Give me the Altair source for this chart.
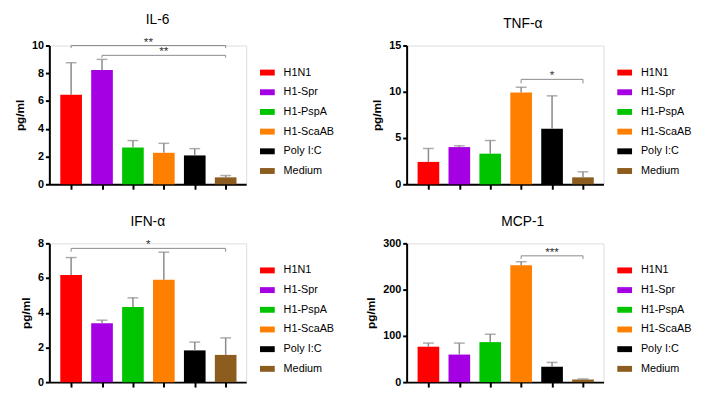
import altair as alt
import pandas as pd

groups = ["H1N1", "H1-Spr", "H1-PspA", "H1-ScaAB", "Poly I:C", "Medium"]
colors = ["#FF0000", "#A500E3", "#00C400", "#FF8000", "#000000", "#8D5C1F"]

il6_mean = [6.46, 8.23, 2.65, 2.27, 2.08, 0.50]
il6_top = [8.76, 9.00, 3.15, 2.95, 2.57, 0.63]
tnf_mean = [2.42, 4.02, 3.31, 9.92, 6.00, 0.75]
tnf_top = [3.87, 4.16, 4.73, 10.49, 9.56, 1.35]
ifn_mean = [6.18, 3.40, 4.33, 5.90, 1.83, 1.57]
ifn_top = [7.18, 3.57, 4.86, 7.49, 2.31, 2.55]
mcp_mean = [76.6, 59.6, 86.5, 252.5, 33.3, 5.7]
mcp_top = [84.4, 84.4, 103.5, 260.3, 42.6, 7.0]

# significance brackets: (from group, to group, bracket level, end-tick bottom, label)
il6_sig = [("H1N1", "Medium", 10.0, 9.81, "**"), ("H1-Spr", "Medium", 9.29, 9.12, "**")]
tnf_sig = [("H1-ScaAB", "Medium", 11.34, 10.91, "*")]
ifn_sig = [("H1N1", "Medium", 7.71, 7.52, "*")]
mcp_sig = [("H1-ScaAB", "Medium", 273.0, 266.0, "***")]

il6_ticks = [0, 2, 4, 6, 8, 10]
tnf_ticks = [0, 5, 10, 15]
ifn_ticks = [0, 2, 4, 6, 8]
mcp_ticks = [0, 100, 200, 300]

FONT = "Liberation Sans"
GRAY = "#8a8a8a"
W, H = 200, 141


def panel(title, means, tops, ticks, sig, title_dx):
    df = pd.DataFrame({
        "group": groups,
        "idx": list(range(len(groups))),
        "mean": means,
        "top": tops,
    })
    sdf = pd.DataFrame({
        "x1": [groups.index(s[0]) for s in sig],
        "x2": [groups.index(s[1]) for s in sig],
        "level": [s[2] for s in sig],
        "end": [s[3] for s in sig],
        "label": [s[4] for s in sig],
    })
    xscale = alt.Scale(domain=[-0.545, 5.505], nice=False, zero=False)
    xaxis = alt.Axis(values=list(range(len(groups))), labels=False, title=None,
                     grid=False, tickSize=5, tickWidth=2, tickColor="black",
                     domainColor="black", domainWidth=2)
    yscale = alt.Scale(domain=[ticks[0], ticks[-1]], nice=False)
    yaxis = alt.Axis(values=ticks, title="pg/ml", grid=False, tickSize=4, tickWidth=2,
                     tickColor="black", domainColor="black", domainWidth=2,
                     labelFont=FONT, labelFontSize=11, labelFontWeight="bold",
                     labelColor="black", labelPadding=2,
                     titleFont=FONT, titleFontSize=12, titleFontWeight="bold",
                     titleColor="black", titlePadding=5)

    def X(f):
        return alt.X(f, scale=xscale, axis=xaxis)

    def Y(f):
        return alt.Y(f, scale=yscale, axis=yaxis)

    base = alt.Chart(df)
    bars = base.mark_bar(size=22).encode(
        x=X("idx:Q"),
        y=Y("mean:Q"),
        color=alt.Color("group:N",
                        scale=alt.Scale(domain=groups, range=colors),
                        legend=alt.Legend(title=None, orient="none", legendX=214, legendY=20,
                                          symbolType="M-1,-0.4H1V0.4H-1Z", symbolSize=225,
                                          symbolStrokeWidth=0, labelFont=FONT,
                                          labelFontSize=11, labelColor="black",
                                          labelOffset=9, rowPadding=7)),
    )
    err = base.mark_rule(color=GRAY, strokeWidth=1.5).encode(
        x=X("idx:Q"), y=Y("mean:Q"), y2="top:Q")
    cap = base.mark_tick(color=GRAY, thickness=1.5, size=11, orient="horizontal").encode(
        x=X("idx:Q"), y=Y("top:Q"))

    sbase = alt.Chart(sdf)
    hline = sbase.mark_rule(color=GRAY, strokeWidth=1).encode(
        x=X("x1:Q"), x2="x2:Q", y=Y("level:Q"))
    lend = sbase.mark_rule(color=GRAY, strokeWidth=1).encode(
        x=X("x1:Q"), y=Y("level:Q"), y2="end:Q")
    rend = sbase.mark_rule(color=GRAY, strokeWidth=1).encode(
        x=X("x2:Q"), y=Y("level:Q"), y2="end:Q")
    stars = sbase.transform_calculate(mid="(datum.x1 + datum.x2) / 2").mark_text(
        font=FONT, fontSize=12, color="#333333", baseline="alphabetic", dy=0
    ).encode(x=X("mid:Q"), y=Y("level:Q"), text="label:N")

    return alt.layer(bars, err, cap, hline, lend, rend, stars).properties(
        width=W, height=H,
        title=alt.TitleParams(title, font=FONT, fontSize=14, fontWeight="normal",
                              color="black", anchor="middle", frame="group",
                              offset=9, dx=title_dx),
    )


p1 = panel("IL-6", il6_mean, il6_top, il6_ticks, il6_sig, 10)
p2 = panel("TNF-α", tnf_mean, tnf_top, tnf_ticks, tnf_sig, 18)
p3 = panel("IFN-α", ifn_mean, ifn_top, ifn_ticks, ifn_sig, 0)
p4 = panel("MCP-1", mcp_mean, mcp_top, mcp_ticks, mcp_sig, 18)

chart = alt.concat(p1, p2, p3, p4, columns=2, spacing={"row": 23, "column": 29}).resolve_scale(
    color="independent"
).properties(
    padding={"left": 5, "top": 1, "right": 5, "bottom": 5}
).configure_view(strokeWidth=0).configure(background="white")

chart.save("out.html", embed_options={"renderer": "svg", "actions": False})
